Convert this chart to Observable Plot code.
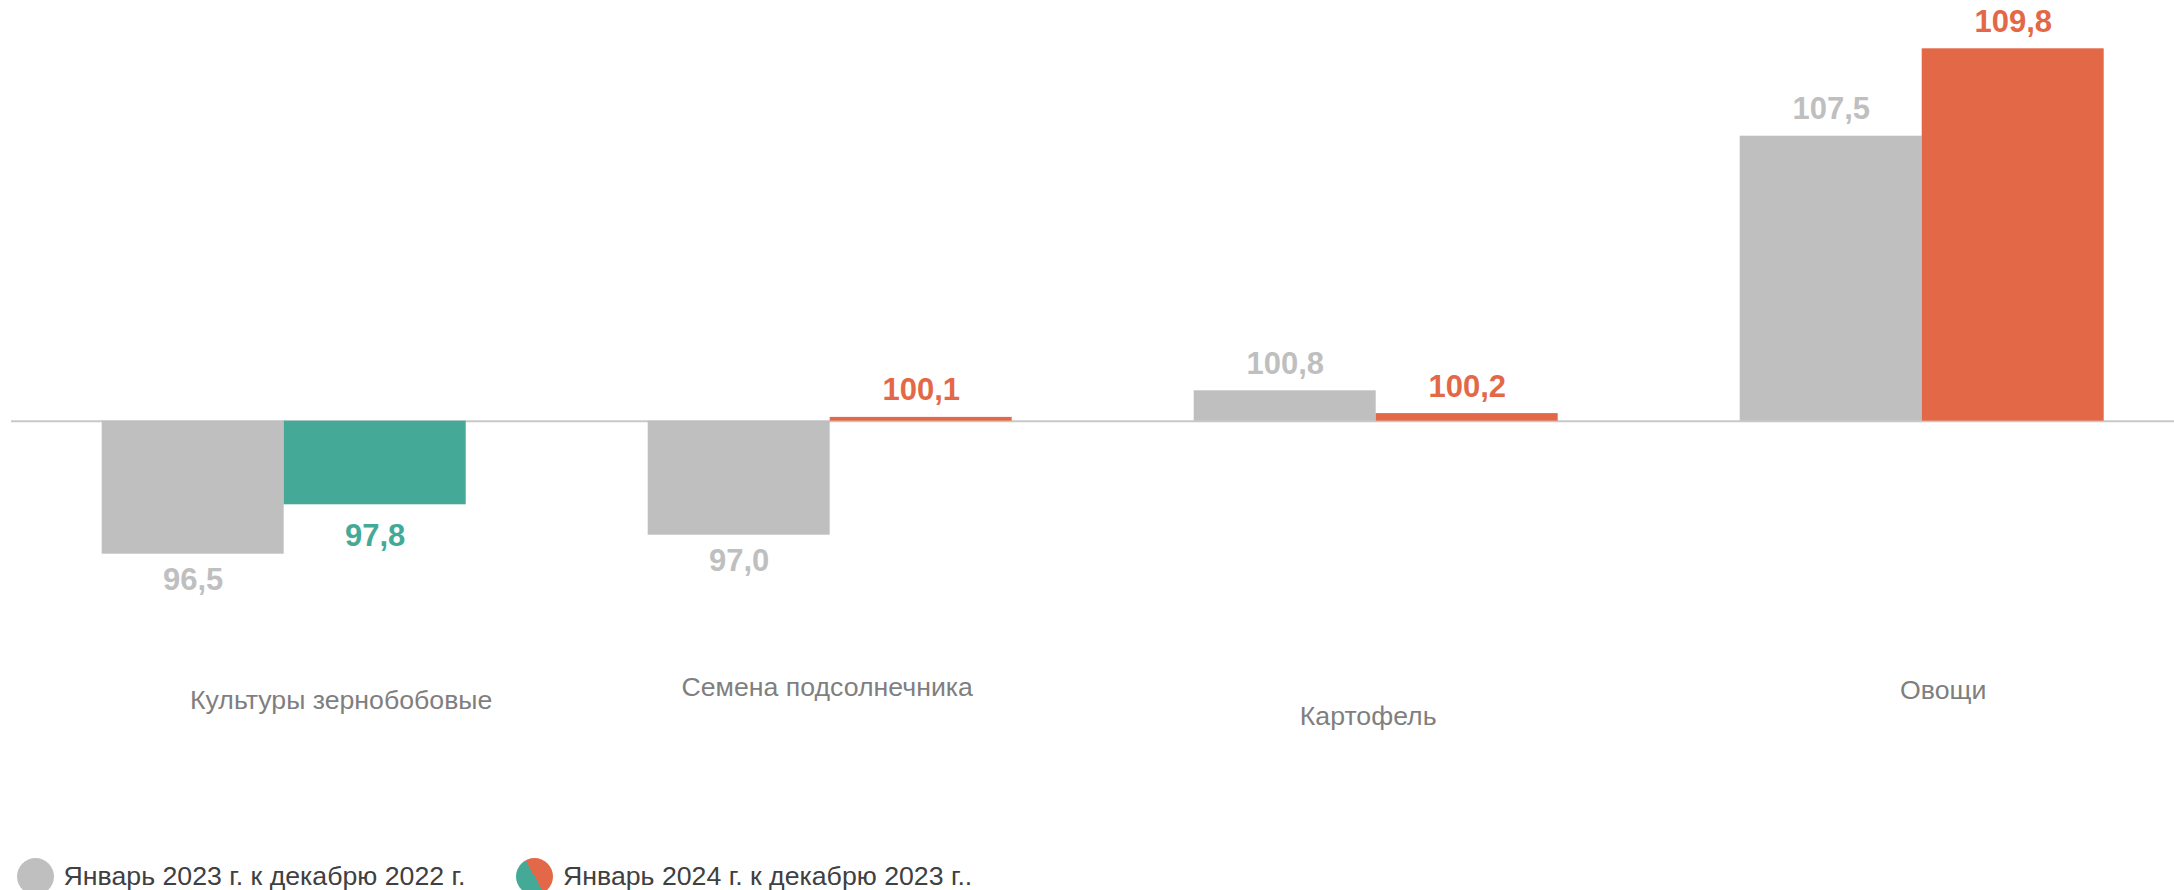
<!DOCTYPE html>
<html>
<head>
<meta charset="utf-8">
<script src="https://cdn.jsdelivr.net/npm/d3@7"></script>
<script src="https://cdn.jsdelivr.net/npm/@observablehq/plot@0.6"></script>
<style>
  html, body { margin: 0; padding: 0; background: #fff; overflow: hidden; }
  body { font-family: "Liberation Sans", Arial, sans-serif; width: 2174px; height: 890px; }
  #legend { position: relative; height: 50px; }
  .item { position: absolute; top: 18px; display: flex; align-items: center; height: 37px; }
  .dot { width: 37px; height: 37px; border-radius: 50%; flex: none; }
  .lbl { font-size: 26.7px; color: #404040; margin-left: 10px; white-space: nowrap; line-height: 37px; }
</style>
</head>
<body>
<div id="chart"></div>
<div id="legend"></div>
<script>
// ---- data ----
const categories = ["Культуры зернобобовые", "Семена подсолнечника", "Картофель", "Овощи"];
const jan2023 = [96.5, 97.0, 100.8, 107.5];
const jan2024 = [97.8, 100.1, 100.2, 109.8];
const seriesNames = ["Январь 2023 г. к декабрю 2022 г.", "Январь 2024 г. к декабрю 2023 г.."];

// ---- styles ----
const GRAY = "#bfbfbf";
const ORANGE = "#e36848";
const TEAL = "#45a997";
const BASE = 100;

const rows = categories.map((c, i) => ({category: c, a: jan2023[i], b: jan2024[i]}));
const fmt = v => v.toFixed(1).replace(".", ",");
const colorB = v => v < BASE ? TEAL : ORANGE;

const xRange = [10.7, 2194.7];
const step = (xRange[1] - xRange[0]) / categories.length;
const bandwidth = step * 2 / 3;
const half = bandwidth / 2;

// category label layout (pixel nudges to match reference)
const catLayout = {
  "Культуры зернобобовые": {dx: 57, dy: 690},
  "Семена подсолнечника": {dx: -3, dy: 677},
  "Картофель": {dx: -8, dy: 706},
  "Овощи": {dx: 21, dy: 680}
};

const labelFont = {fontSize: 31, fontWeight: "bold", fontFamily: "Liberation Sans, Arial, sans-serif"};

const chart = Plot.plot({
  width: 2174,
  height: 840,
  marginTop: 0,
  marginBottom: 0,
  marginLeft: 11,
  marginRight: 0,
  style: {fontFamily: "Liberation Sans, Arial, sans-serif", background: "white"},
  x: {type: "band", domain: categories, range: xRange, paddingInner: 1/3, paddingOuter: 1/6, round: false, axis: null},
  y: {domain: [90, 111], range: [800.7, 2.7], axis: null},
  marks: [
    Plot.ruleY([BASE], {stroke: "#c8c8c8", strokeWidth: 2}),
    Plot.barY(rows, {x: "category", y1: BASE, y2: "a", fill: GRAY, insetLeft: 0, insetRight: half}),
    Plot.barY(rows, {x: "category", y1: BASE, y2: "b", fill: d => colorB(d.b), insetLeft: half, insetRight: 0}),
    Plot.text(rows.filter(d => d.a >= BASE), {x: "category", y: "a", text: d => fmt(d.a), dx: -half / 2, dy: -27, fill: GRAY, ...labelFont}),
    Plot.text(rows.filter(d => d.a < BASE), {x: "category", y: "a", text: d => fmt(d.a), dx: -half / 2, dy: 26, fill: GRAY, ...labelFont}),
    Plot.text(rows.filter(d => d.b >= BASE), {x: "category", y: "b", text: d => fmt(d.b), dx: half / 2, dy: -27, fill: d => colorB(d.b), ...labelFont}),
    Plot.text(rows.filter(d => d.b < BASE), {x: "category", y: "b", text: d => fmt(d.b), dx: half / 2, dy: 31, fill: d => colorB(d.b), ...labelFont}),
    ...categories.map(c => Plot.text([c], {
      x: d => d, text: d => d, frameAnchor: "top",
      dx: catLayout[c].dx, dy: catLayout[c].dy,
      fill: "#7f7f7f", fontSize: 26.7, fontFamily: "Liberation Sans, Arial, sans-serif"
    }))
  ]
});
document.getElementById("chart").appendChild(chart);

// ---- legend ----
const legend = document.getElementById("legend");
const items = [
  {left: 16.6, bg: GRAY, text: seriesNames[0]},
  {left: 516, bg: `linear-gradient(62deg, ${TEAL} 50%, ${ORANGE} 50%)`, text: seriesNames[1]}
];
for (const it of items) {
  const el = document.createElement("div");
  el.className = "item";
  el.style.left = it.left + "px";
  const dot = document.createElement("div");
  dot.className = "dot";
  dot.style.background = it.bg;
  const lbl = document.createElement("span");
  lbl.className = "lbl";
  lbl.textContent = it.text;
  el.appendChild(dot);
  el.appendChild(lbl);
  legend.appendChild(el);
}
</script>
</body>
</html>
